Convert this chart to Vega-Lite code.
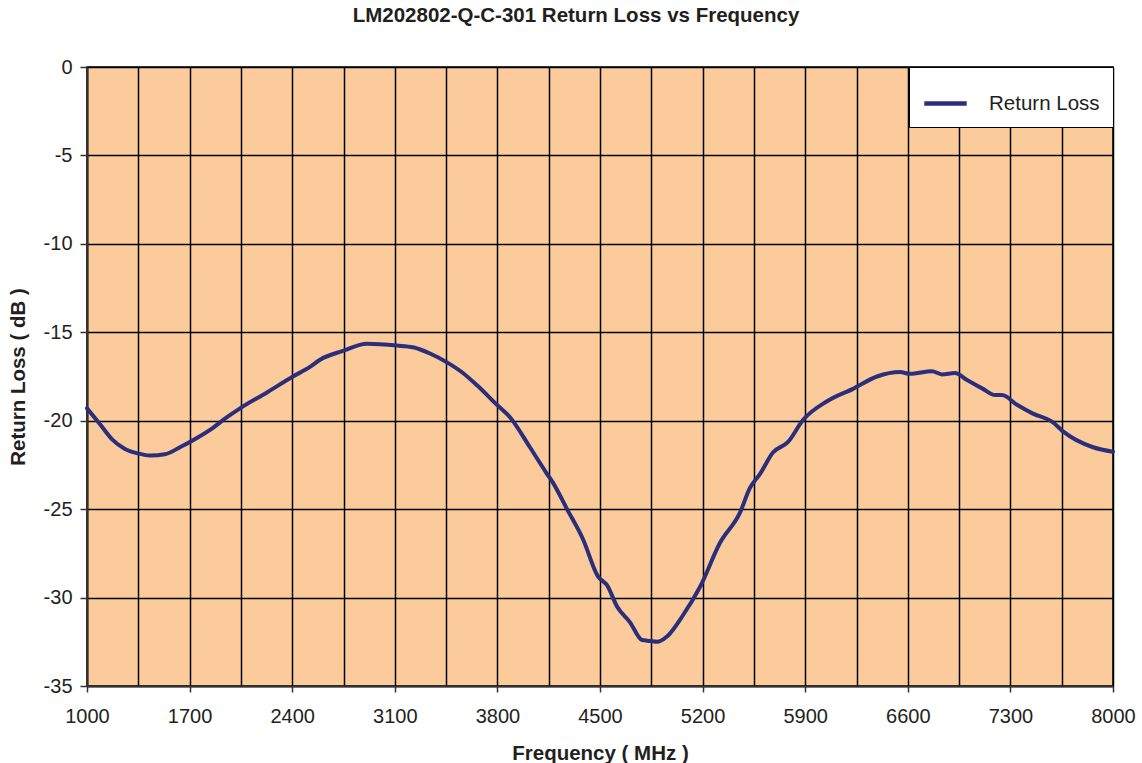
{
  "$schema": "https://vega.github.io/schema/vega-lite/v6.json",
  "autosize": {"type": "none"},
  "width": 1026,
  "height": 619,
  "padding": {"left": 87, "top": 67, "right": 29, "bottom": 77},
  "background": "white",
  "config": {
    "font": "Liberation Sans",
    "view": {"fill": "#FBCB9B", "stroke": "#000000", "strokeWidth": 1.5}
  },
  "title": {
    "text": "LM202802-Q-C-301 Return Loss vs Frequency",
    "font": "Liberation Sans",
    "fontSize": 20.5,
    "fontWeight": "bold",
    "color": "#231F20",
    "anchor": "middle",
    "baseline": "top",
    "offset": 31,
    "dx": -24
  },
  "data": {
    "values": [
      {"freq": 1000, "rl": -19.3},
      {"freq": 1089, "rl": -20.2},
      {"freq": 1177, "rl": -21.1},
      {"freq": 1259, "rl": -21.6},
      {"freq": 1348, "rl": -21.85},
      {"freq": 1430, "rl": -21.97},
      {"freq": 1532, "rl": -21.9},
      {"freq": 1634, "rl": -21.5},
      {"freq": 1744, "rl": -21.0},
      {"freq": 1860, "rl": -20.4},
      {"freq": 1955, "rl": -19.8},
      {"freq": 2044, "rl": -19.3},
      {"freq": 2228, "rl": -18.4},
      {"freq": 2405, "rl": -17.5},
      {"freq": 2521, "rl": -16.96},
      {"freq": 2590, "rl": -16.55},
      {"freq": 2747, "rl": -16.05},
      {"freq": 2910, "rl": -15.65},
      {"freq": 3115, "rl": -15.75},
      {"freq": 3224, "rl": -15.85},
      {"freq": 3340, "rl": -16.2},
      {"freq": 3456, "rl": -16.7},
      {"freq": 3565, "rl": -17.3},
      {"freq": 3661, "rl": -18.0},
      {"freq": 3797, "rl": -19.1},
      {"freq": 3886, "rl": -19.8},
      {"freq": 4022, "rl": -21.5},
      {"freq": 4138, "rl": -23.0},
      {"freq": 4179, "rl": -23.5},
      {"freq": 4275, "rl": -25.0},
      {"freq": 4384, "rl": -26.7},
      {"freq": 4486, "rl": -28.8},
      {"freq": 4548, "rl": -29.3},
      {"freq": 4616, "rl": -30.5},
      {"freq": 4705, "rl": -31.4},
      {"freq": 4787, "rl": -32.4},
      {"freq": 4841, "rl": -32.45},
      {"freq": 4889, "rl": -32.5},
      {"freq": 4957, "rl": -32.2},
      {"freq": 5066, "rl": -31.0},
      {"freq": 5182, "rl": -29.4},
      {"freq": 5319, "rl": -26.9},
      {"freq": 5455, "rl": -25.2},
      {"freq": 5523, "rl": -23.8},
      {"freq": 5592, "rl": -23.0},
      {"freq": 5680, "rl": -21.8},
      {"freq": 5783, "rl": -21.2},
      {"freq": 5885, "rl": -19.96},
      {"freq": 6049, "rl": -18.9},
      {"freq": 6226, "rl": -18.2},
      {"freq": 6390, "rl": -17.5},
      {"freq": 6547, "rl": -17.25},
      {"freq": 6615, "rl": -17.35},
      {"freq": 6765, "rl": -17.2},
      {"freq": 6833, "rl": -17.38},
      {"freq": 6922, "rl": -17.3},
      {"freq": 7004, "rl": -17.7},
      {"freq": 7113, "rl": -18.2},
      {"freq": 7195, "rl": -18.55},
      {"freq": 7243, "rl": -18.55},
      {"freq": 7345, "rl": -19.1},
      {"freq": 7454, "rl": -19.6},
      {"freq": 7591, "rl": -20.1},
      {"freq": 7659, "rl": -20.6},
      {"freq": 7864, "rl": -21.5},
      {"freq": 8000, "rl": -21.75}
    ]
  },
  "mark": {"type": "line", "strokeWidth": 4, "interpolate": "monotone", "strokeCap": "round", "strokeJoin": "round"},
  "encoding": {
    "x": {
      "field": "freq",
      "type": "quantitative",
      "scale": {"domain": [1000, 8000], "nice": false, "zero": false},
      "axis": {
        "title": "Frequency ( MHz )",
        "titleFont": "Liberation Sans",
        "titleFontSize": 20.5,
        "titleFontWeight": "bold",
        "titleColor": "#231F20",
        "titlePadding": 17,
        "values": [1000, 1350, 1700, 2050, 2400, 2750, 3100, 3450, 3800, 4150, 4500, 4850, 5200, 5550, 5900, 6250, 6600, 6950, 7300, 7650, 8000],
        "labelExpr": "(datum.value - 1000) % 700 === 0 ? '' + datum.value : ''",
        "labelFontSize": 20,
        "labelColor": "#231F20",
        "labelPadding": 14,
        "labelFlush": false,
        "labelOverlap": false,
        "tickSize": 6,
        "tickWidth": 1.5,
        "tickColor": "#333333",
        "tickOpacity": {"condition": {"test": "(datum.value - 1000) % 700 === 0", "value": 1}, "value": 0},
        "domainColor": "#333333",
        "domainWidth": 2,
        "grid": true,
        "gridColor": "#000000",
        "gridWidth": 1.5,
        "gridOpacity": 1
      }
    },
    "y": {
      "field": "rl",
      "type": "quantitative",
      "scale": {"domain": [-35, 0], "nice": false, "zero": false},
      "axis": {
        "title": "Return Loss ( dB )",
        "titleFont": "Liberation Sans",
        "titleFontSize": 20.5,
        "titleFontWeight": "bold",
        "titleColor": "#231F20",
        "titlePadding": 15,
        "values": [0, -5, -10, -15, -20, -25, -30, -35],
        "labelExpr": "'' + datum.value",
        "labelFontSize": 20,
        "labelColor": "#231F20",
        "labelPadding": 8,
        "labelFlush": false,
        "labelOverlap": false,
        "tickSize": 7,
        "tickWidth": 1.5,
        "tickColor": "#333333",
        "domainColor": "#333333",
        "domainWidth": 2,
        "grid": true,
        "gridColor": "#000000",
        "gridWidth": 1.5,
        "gridOpacity": 1
      }
    },
    "color": {
      "datum": "Return Loss",
      "type": "nominal",
      "scale": {"range": ["#2B2F7B"]},
      "legend": {
        "title": null,
        "orient": "none",
        "legendX": 822,
        "legendY": 0,
        "fillColor": "#FFFFFF",
        "strokeColor": "#000000",
        "padding": 13,
        "symbolType": "stroke",
        "symbolSize": 1800,
        "symbolStrokeWidth": 4.5,
        "labelFontSize": 20.5,
        "labelColor": "#231F20",
        "labelOffset": 20,
        "labelFont": "Liberation Sans"
      }
    }
  }
}
